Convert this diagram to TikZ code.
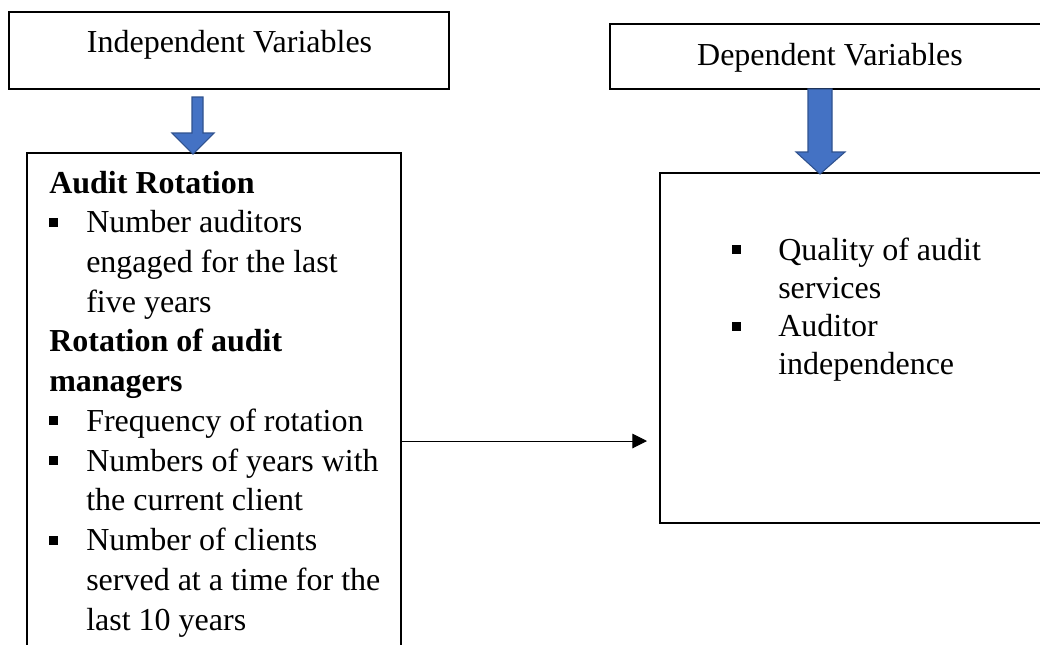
\documentclass[tikz,border=0pt]{standalone}
\usepackage{fontspec}
\setmainfont{Liberation Serif}
\usetikzlibrary{fit,arrows.meta}
\definecolor{arrblue}{HTML}{4472C4}
\definecolor{arrbord}{HTML}{2F528F}
\newlength\pxu \setlength\pxu{0.75pt}
\newcommand\sqbul[1]{\makebox[#1\pxu][l]{\rule[6\pxu]{9\pxu}{9\pxu}}}
\newcommand\hang[1]{\hspace*{#1\pxu}}
\tikzset{
  varbox/.style={draw, line width=1.7pt, inner sep=0pt},
  bluearr/.style={fill=arrblue, draw=arrbord, line width=0.8pt, line join=miter},
  txt/.style={inner sep=0pt, anchor=base west, font=\fontsize{24pt}{29.8pt}\selectfont},
}
\begin{document}
\begin{tikzpicture}[x=0.75pt,y=-0.75pt]
  \clip (0,0) rectangle (1040,644);
  % boxes
  \node[varbox, fit={(9,12) (449,89)}] (indep) {};
  \node[varbox, fit={(610,24) (1050,89)}] (dep) {};
  \node[varbox, fit={(27,153) (401,729)}] (rot) {};
  \node[varbox, fit={(660,173) (1050,523)}] (qual) {};
  % headings
  \node[txt, anchor=base] (indeptxt) at (229.5,52.7) {Independent Variables};
  \node[txt, anchor=base] (deptxt) at (830,65) {Dependent Variables};
  % contents
  \node[txt] (rottxt) at (49,193) {\parbox[t]{360\pxu}{%
    \textbf{Audit Rotation}\\
    \sqbul{37}Number auditors\\
    \hang{37}engaged for the last\\
    \hang{37}five years\\
    \textbf{Rotation of audit}\\
    \textbf{managers}\\
    \sqbul{37}Frequency of rotation\\
    \sqbul{37}Numbers of years with\\
    \hang{37}the current client\\
    \sqbul{37}Number of clients\\
    \hang{37}served at a time for the\\
    \hang{37}last 10 years}};
  \node[txt, font=\fontsize{24pt}{28.7pt}\selectfont] (qualtxt) at (732,260) {\parbox[t]{300\pxu}{%
    \sqbul{46}Quality of audit\\
    \hang{46}services\\
    \sqbul{46}Auditor\\
    \hang{46}independence}};
  % arrows
  \draw[bluearr] (192,97) -- (203,97) -- (203,133) -- (214,133) -- (193,154)
    -- (172,133) -- (192,133) -- cycle;
  \draw[bluearr] (808,89) -- (832,89) -- (832,152) -- (845,152) -- (820,174)
    -- (796,152) -- (808,152) -- cycle;
  \coordinate (arrtip) at (647,441);
  \draw[line width=0.75pt, -{Triangle[length=11pt,width=11pt]}] (rot.east) -- (arrtip);
\end{tikzpicture}
\end{document}
